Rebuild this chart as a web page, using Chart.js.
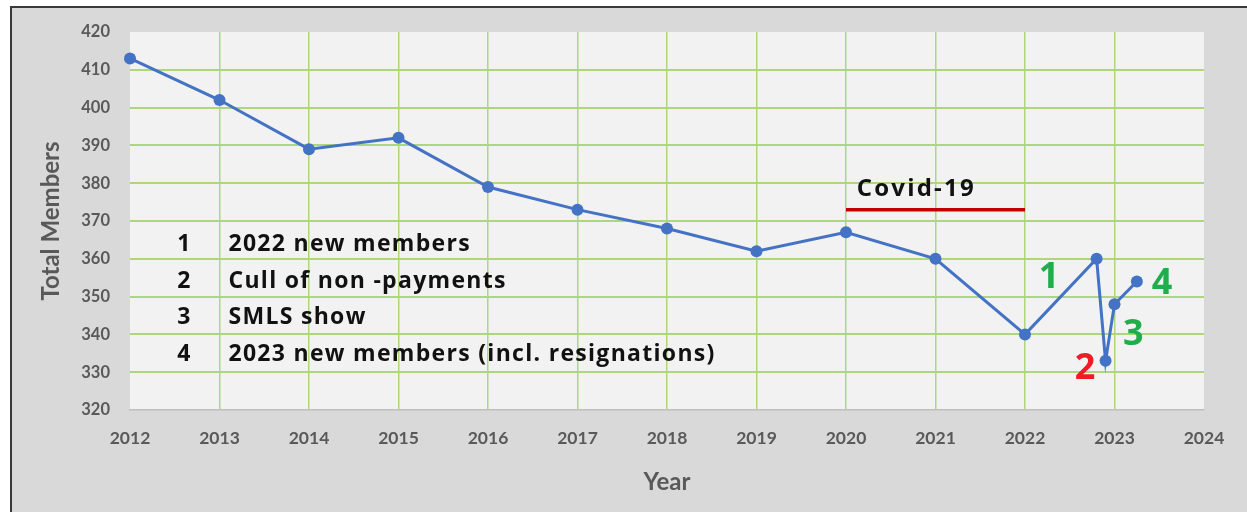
<!DOCTYPE html>
<html>
<head>
<meta charset="utf-8">
<script src="https://cdn.jsdelivr.net/npm/chart.js@4.4.0/dist/chart.umd.min.js"></script>
<style>
  html, body { margin: 0; padding: 0; background: #fff; }
  #wrap { width: 1247px; height: 512px; }
</style>
</head>
<body>
<div id="wrap"><canvas id="myChart" width="1247" height="512"></canvas></div>
<script>
// membership counts (decimal year on x)
const years = [2012, 2013, 2014, 2015, 2016, 2017, 2018, 2019, 2020, 2021, 2022, 2022.8, 2022.9, 2023.0, 2023.25]
const members = [413, 402, 389, 392, 379, 373, 368, 362, 367, 360, 340, 360, 333, 348, 354]

// covid period bar
const covidYears = [2020, 2022]
const covidLevel = 373

// notes box on the left
const noteNums = ['1', '2', '3', '4']
const noteTexts = ['2022 new members', 'Cull of non -payments', 'SMLS show', '2023 new members (incl. resignations)']
const noteRows = [363.8, 354.1, 344.4, 334.6]

// numbered markers next to the line
const markLabels = ['1', '2', '3', '4']
const markX = [2022.27, 2022.67, 2023.21, 2023.53]
const markY = [355.1, 331.0, 339.9, 353.4]
const markColors = ['#1fae4b', '#ee1c24', '#1fae4b', '#1fae4b']

const yTicks = [320, 330, 340, 350, 360, 370, 380, 390, 400, 410, 420]

const grey = '#595959'
const gridGreen = '#aed67c'

const framePlugin = {
    id: 'frame',
    beforeDraw(chart) {
        const c = chart.ctx
        const a = chart.chartArea
        c.save()
        c.fillStyle = '#ffffff'
        c.fillRect(0, 0, chart.width, chart.height)
        c.fillStyle = '#d9d9d9'
        c.fillRect(11, 6, chart.width - 11, chart.height - 6)
        c.strokeStyle = '#3a3a3a'
        c.lineWidth = 2
        c.beginPath()
        c.moveTo(chart.width, 7)
        c.lineTo(11, 7)
        c.lineTo(11, chart.height)
        c.stroke()
        c.fillStyle = '#f2f2f2'
        c.fillRect(a.left, a.top, a.right - a.left, a.bottom - a.top)
        c.restore()
    }
}

const notesPlugin = {
    id: 'notes',
    afterDatasetsDraw(chart) {
        const c = chart.ctx
        const xs = chart.scales.x
        const ys = chart.scales.y
        c.save()
        c.textBaseline = 'middle'
        c.fillStyle = '#111'
        c.font = 'bold 23px "Open Sans"'
        c.letterSpacing = '1.3px'
        noteNums.forEach((n, i) => {
            const y = ys.getPixelForValue(noteRows[i])
            c.textAlign = 'center'
            c.fillText(n, xs.getPixelForValue(2012.61), y)
            c.textAlign = 'left'
            c.fillText(noteTexts[i], xs.getPixelForValue(2013.1), y)
        })
        // covid label
        c.font = 'bold 24px "Open Sans"'
        c.letterSpacing = '2.2px'
        c.textAlign = 'left'
        c.fillText('Covid-19', xs.getPixelForValue(2020.12), ys.getPixelForValue(378.3))
        // numbered markers
        c.font = 'bold 36px "Open Sans"'
        c.letterSpacing = '0px'
        c.textAlign = 'center'
        markLabels.forEach((m, i) => {
            c.fillStyle = markColors[i]
            c.fillText(m, xs.getPixelForValue(markX[i]), ys.getPixelForValue(markY[i]))
        })
        c.restore()
    }
}

const ctx = document.getElementById('myChart').getContext('2d')

const myChart = new Chart(ctx, {
    type: 'line',
    data: {
        datasets: [{
            label: 'Total Members',
            data: years.map((x, i) => ({ x: x, y: members[i] })),
            borderColor: '#4472c4',
            backgroundColor: '#4472c4',
            borderWidth: 3,
            pointRadius: 6,
            pointBorderWidth: 0,
            tension: 0,
            clip: false,
            fill: false
        }, {
            label: 'Covid-19',
            data: covidYears.map(x => ({ x: x, y: covidLevel })),
            borderColor: '#c00000',
            borderWidth: 3.5,
            pointRadius: 0,
            fill: false
        }]
    },
    options: {
        responsive: false,
        animation: false,
        layout: { padding: { top: 32, right: 43, left: 0, bottom: 0 } },
        plugins: {
            legend: { display: false },
            tooltip: { enabled: false }
        },
        scales: {
            x: {
                type: 'linear',
                min: 2012,
                max: 2024,
                afterFit: (s) => { s.height = 102 },
                ticks: {
                    stepSize: 1,
                    padding: 18,
                    color: grey,
                    font: { family: 'Lato', weight: 'bold', size: 17.5 },
                    callback: (v) => String(v)
                },
                grid: {
                    drawTicks: false,
                    lineWidth: 1.5,
                    color: (c) => (c.tick && (c.tick.value === 2012 || c.tick.value === 2024)) ? 'rgba(0,0,0,0)' : gridGreen
                },
                border: { display: true, color: '#bfbfbf', width: 1.5 },
                title: {
                    display: true,
                    text: 'Year',
                    color: grey,
                    font: { family: 'Lato', weight: 'bold', size: 24 },
                    padding: { top: 0, bottom: 15 }
                }
            },
            y: {
                min: 320,
                max: 420,
                afterFit: (s) => { s.width = 130 },
                afterBuildTicks: (s) => { s.ticks = yTicks.map(v => ({ value: v })) },
                ticks: {
                    padding: 20,
                    color: grey,
                    font: { family: 'Lato', weight: 'bold', size: 16.5 }
                },
                grid: {
                    drawTicks: false,
                    lineWidth: 2,
                    color: (c) => (c.tick && (c.tick.value === 320 || c.tick.value === 420)) ? 'rgba(0,0,0,0)' : gridGreen
                },
                border: { display: false },
                title: {
                    display: true,
                    text: 'Total Members',
                    color: grey,
                    font: { family: 'Lato', weight: 'bold', size: 24 },
                    padding: { top: 37, bottom: 0 }
                }
            }
        }
    },
    plugins: [framePlugin, notesPlugin]
})
</script>
</body>
</html>
